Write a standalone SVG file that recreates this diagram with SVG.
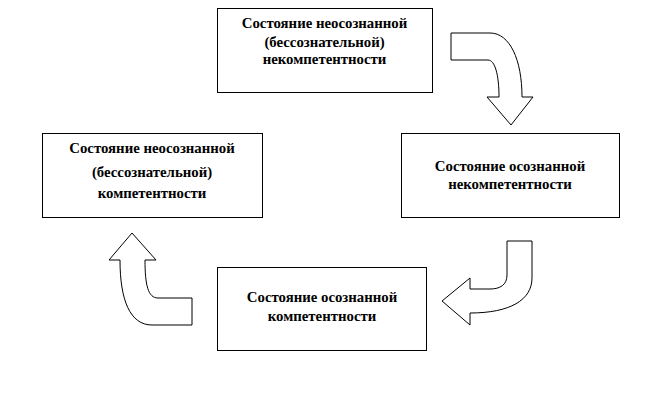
<svg xmlns="http://www.w3.org/2000/svg" width="650" height="408" viewBox="0 0 650 408">
<style>
.box{fill:#fff;stroke:#000;stroke-width:1}
.arr{fill:#fff;stroke:#000;stroke-width:1}
text{font-family:"Liberation Serif","Times New Roman",serif;font-weight:bold;font-size:14.8px;text-anchor:middle;fill:#000}
</style>
<rect width="650" height="408" fill="#fff"/>
<g id="node1">
<rect class="box" x="217.5" y="8.5" width="215" height="84"/>
<text x="324.5" y="28">Состояние неосознанной</text>
<text x="324.5" y="46.5">(бессознательной)</text>
<text x="324.5" y="64">некомпетентности</text>
</g>
<g id="node2">
<rect class="box" x="401.5" y="133.5" width="218" height="84"/>
<text x="510" y="171">Состояние осознанной</text>
<text x="510" y="189">некомпетентности</text>
</g>
<g id="node3">
<rect class="box" x="217.5" y="267.5" width="209" height="83"/>
<text x="322" y="302">Состояние осознанной</text>
<text x="322" y="321">компетентности</text>
</g>
<g id="node4">
<rect class="box" x="42.5" y="133.5" width="220" height="84"/>
<text x="152" y="152.5">Состояние неосознанной</text>
<text x="152" y="176.5">(бессознательной)</text>
<text x="152" y="197.5">компетентности</text>
</g>
<g id="connectors">
<path class="arr" d="M451,33 L490,33 C510,33 522,60 522,97 L533,97 L511,125 L487,97 L499,97 C499,75 495,60 488,60 L451,60 Z"/>
<path class="arr" d="M507,241 L532,241 L532,278 C532,300 510,313 470,313 L470,325 L442,301 L470,278 L470,289 L490,289 C500,289 507,285 507,275 Z"/>
<path class="arr" d="M192,298 L192,325 L152,325 C130,325 120,300 120,260 L109,260 L132,233 L156,260 L145,260 C145,285 148,298 158,298 Z"/>
</g>
</svg>
